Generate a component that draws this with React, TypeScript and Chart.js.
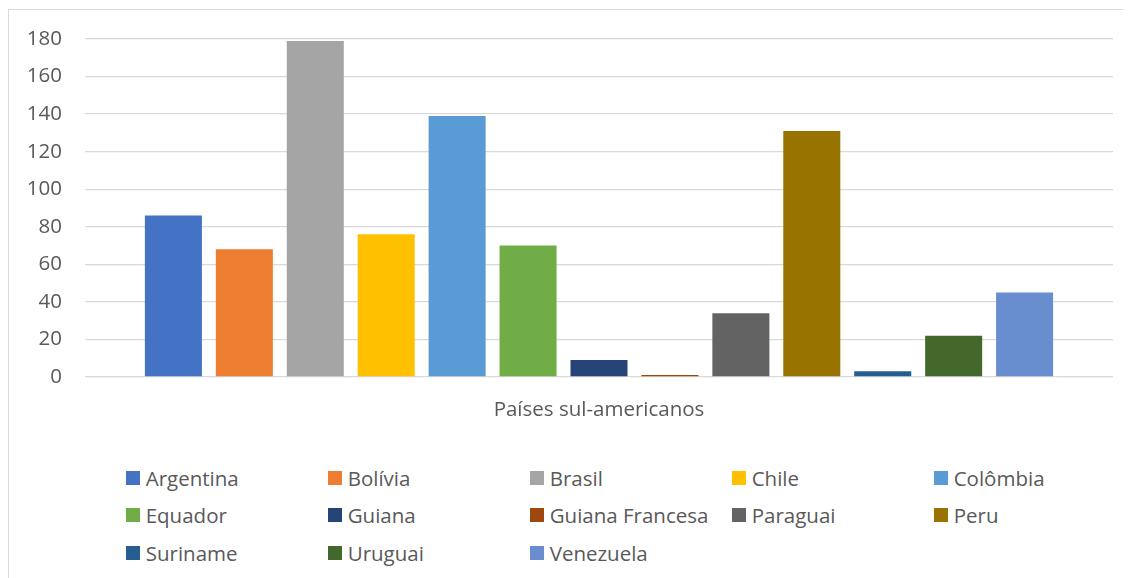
import React, { useEffect, useRef } from "react";
import { Chart, registerables } from "chart.js";

Chart.register(...registerables);

const categories = ["Países sul-americanos"];
const countries = [
  "Argentina",
  "Bolívia",
  "Brasil",
  "Chile",
  "Colômbia",
  "Equador",
  "Guiana",
  "Guiana Francesa",
  "Paraguai",
  "Peru",
  "Suriname",
  "Uruguai",
  "Venezuela",
];
const values = [86, 68, 179, 76, 139, 70, 9, 1, 34, 131, 3, 22, 45];
const colors = [
  "#4472C4",
  "#ED7D31",
  "#A5A5A5",
  "#FFC000",
  "#5B9BD5",
  "#70AD47",
  "#264478",
  "#9E480E",
  "#636363",
  "#997300",
  "#255E91",
  "#43682B",
  "#698ED0",
];
const yMin = 0;
const yMax = 180;
const yStep = 20;

const FONT = "'Open Sans', sans-serif";
const TEXT = "#595959";
const GRID = "#d9d9d9";

const legendCols = [117, 319, 521, 723, 925];
const legendRows = [467.5, 505, 543];

export default function App() {
  const ref = useRef<HTMLCanvasElement | null>(null);

  useEffect(() => {
    if (!ref.current) return;
    const chart = new Chart(ref.current, {
      type: "bar",
      data: {
        labels: categories,
        datasets: countries.map((name, i) => ({
          label: name,
          data: [values[i]],
          backgroundColor: colors[i],
          borderWidth: 0,
          categoryPercentage: 0.897,
          barPercentage: 0.804,
        })),
      },
      options: {
        responsive: false,
        maintainAspectRatio: false,
        animation: false,
        layout: { padding: { left: 0, top: 29, right: 17, bottom: 0 } },
        plugins: {
          legend: { display: false },
          tooltip: { enabled: false },
          title: { display: false },
        },
        scales: {
          x: {
            grid: { display: false, drawTicks: false },
            border: { display: false },
            ticks: {
              color: TEXT,
              font: { family: FONT, size: 20.5 },
              padding: 21,
            },
            afterFit: (s: any) => {
              s.height = 73;
            },
          },
          y: {
            min: yMin,
            max: yMax,
            grid: {
              color: GRID,
              lineWidth: 1.3,
              drawTicks: true,
              tickLength: 23,
              tickColor: "rgba(0,0,0,0)",
            },
            border: { display: false },
            ticks: {
              stepSize: yStep,
              color: TEXT,
              font: { family: FONT, size: 20.5 },
              padding: 0,
            },
            afterFit: (s: any) => {
              s.width = 76;
            },
          },
        },
      },
    });
    return () => chart.destroy();
  }, []);

  return (
    <div style={{ paddingTop: 1 }}>
      <div
        style={{
          position: "relative",
          width: 1140,
          height: 600,
          border: `1px solid ${GRID}`,
          boxSizing: "border-box",
          background: "#fff",
        }}
      >
        <canvas
          ref={ref}
          width={1121}
          height={440}
          style={{ position: "absolute", left: 0, top: 0, width: 1121, height: 440 }}
        />
        {countries.map((name, i) => {
          const col = i % 5;
          const row = Math.floor(i / 5);
          return (
            <div
              key={name}
              style={{
                position: "absolute",
                left: legendCols[col],
                top: legendRows[row] - 12,
                height: 24,
                display: "flex",
                alignItems: "center",
                whiteSpace: "nowrap",
                fontFamily: FONT,
                fontSize: 20.5,
                lineHeight: "24px",
                color: TEXT,
              }}
            >
              <span
                style={{
                  display: "inline-block",
                  width: 14,
                  height: 14,
                  background: colors[i],
                  marginRight: 5.7,
                }}
              />
              <span>{name}</span>
            </div>
          );
        })}
      </div>
    </div>
  );
}
